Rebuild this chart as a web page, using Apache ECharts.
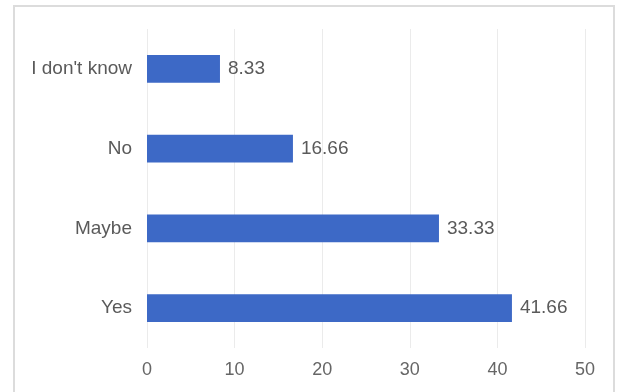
<!DOCTYPE html>
<html><head><meta charset="utf-8">
<script src="https://cdn.jsdelivr.net/npm/echarts@6/dist/echarts.min.js"></script>
<style>html,body{margin:0;padding:0;background:#fff}#c{width:618px;height:392px}</style>
</head><body><div id="c"></div>
<script>
const categories = ["Yes", "Maybe", "No", "I don't know"];
const values = [41.66, 33.33, 16.66, 8.33];
const xTicks = [0, 10, 20, 30, 40, 50];

const chart = echarts.init(document.getElementById('c'), null, {renderer: 'canvas'});
chart.setOption({
  animation: false,
  backgroundColor: '#fff',
  textStyle: {fontFamily: 'Liberation Sans, Arial, sans-serif'},
  graphic: [{
    type: 'rect', left: 13, top: 5, z: -1,
    shape: {width: 600, height: 400},
    style: {fill: '#fff', stroke: '#dcdcdc', lineWidth: 2}
  }],
  grid: {left: 147, right: 33, top: 29, bottom: 44},
  xAxis: {
    type: 'value', min: xTicks[0], max: xTicks[xTicks.length - 1], interval: 10,
    axisLine: {show: false}, axisTick: {show: false},
    splitLine: {lineStyle: {color: '#ebebeb', width: 1}},
    axisLabel: {color: '#666', fontSize: 18, margin: 13}
  },
  yAxis: {
    type: 'category', data: categories,
    axisLine: {show: false}, axisTick: {show: false},
    axisLabel: {color: '#5a5a5a', fontSize: 19, margin: 15}
  },
  series: [{
    type: 'bar', data: values, barWidth: '35%',
    itemStyle: {color: '#3d69c6'},
    label: {show: true, position: 'right', distance: 8, color: '#5a5a5a', fontSize: 19,
      formatter: p => p.value.toFixed(2)}
  }]
});
</script></body></html>
